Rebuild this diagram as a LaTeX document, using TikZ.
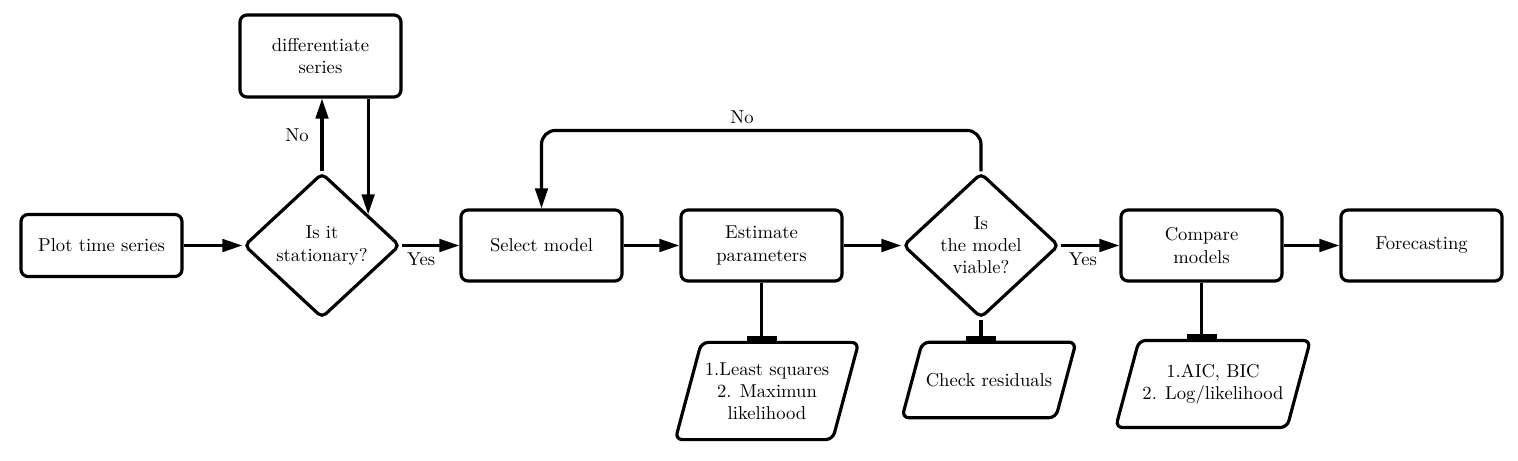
\documentclass[tikz,border=0pt]{standalone}
\usepackage{tikz}
\usetikzlibrary{calc,arrows.meta,shapes.geometric}

\begin{document}
\begin{tikzpicture}[
	line width=1.8pt,
	font=\fontsize{10.6}{12.6}\selectfont,
	box/.style={draw, rounded corners=4pt, align=center, inner sep=2pt,
		minimum width=\boxw, minimum height=1.42cm},
	decision/.style={draw, diamond, rounded corners=3pt, align=center, inner sep=0pt,
		minimum width=3.12cm, minimum height=2.9cm},
	method/.style={draw, trapezium, trapezium left angle=75, trapezium right angle=105,
		trapezium stretches body, rounded corners=4pt, align=center, inner xsep=2pt},
	arr/.style={-{Triangle[length=0.4cm,width=0.25cm]}},
	tee/.style={-{Rectangle[length=0.09cm,width=0.6cm]}},
	lbl/.style={inner sep=1pt},
]

% parameters %{{{2

	\def\boxw{3.22cm}
	\def\rowy{4.29}

	\useasboundingbox (0,0) rectangle (30.36,9.2);

% main row %{{{2

	\node[box, minimum height=1.24cm] (plot) at (2.03,\rowy) {Plot time series};
	\node[decision] (stat) at (6.44,\rowy) {Is it\\stationary?};
	\node[box] (sel) at (10.83,\rowy) {Select model};
	\node[box] (est) at (15.23,\rowy) {Estimate\\parameters};
	\node[decision] (viab) at (19.62,\rowy) {Is\\the model\\viable?};
	\node[box] (comp) at (24.03,\rowy) {Compare\\models};
	\node[box] (fore) at (28.43,\rowy) {Forecasting};

% side nodes %{{{2

	\node[box, minimum height=1.64cm] (diff) at (6.41,8.08) {differentiate\\series};

	\node[method, minimum width=3.58cm, inner ysep=0.4cm] (ls) at (15.34,1.38)
		{1.Least squares\\2. Maximun\\likelihood};
	\node[method, minimum width=3.26cm, inner ysep=0.62cm] (cr) at (19.78,1.6)
		{Check residuals};
	\node[method, minimum width=3.82cm, inner ysep=0.47cm] (aic) at (24.26,1.52)
		{1.AIC, BIC\\2. Log/likelihood};

% arrows %{{{2

	\draw[arr] (plot.east) -- (stat.west);
	\draw[arr] (stat.east) -- (sel.west) node[lbl, pos=0.34, below=2pt] (yes1) {Yes};
	\draw[arr] (sel.east) -- (est.west);
	\draw[arr] (est.east) -- (viab.west);
	\draw[arr] (viab.east) -- (comp.west) node[lbl, pos=0.38, below=2pt] (yes2) {Yes};
	\draw[arr] (comp.east) -- (fore.west);

% differentiate loop %{{{2

	\coordinate (dn) at ($(stat.north)!0.58!(stat.east)$);
	\draw[arr] (stat.north) -- (stat.north |- diff.south) node[lbl, midway, left=0.2cm] (no1) {No};
	\draw[arr] (diff.south -| dn) -- (dn);

% model loop %{{{2

	\draw[arr, rounded corners=8pt] (viab.north) -- ++(0,0.82) -| (sel.north);
	\node[lbl] (no2) at (14.84,6.86) {No};

% methods %{{{2

	\draw[tee] (est.south) -- (est.south |- ls.north);
	\draw[tee] (viab.south) -- (viab.south |- cr.north);
	\draw[tee] (comp.south) -- (comp.south |- aic.north);

% closing %{{{2

\end{tikzpicture}
\end{document}
